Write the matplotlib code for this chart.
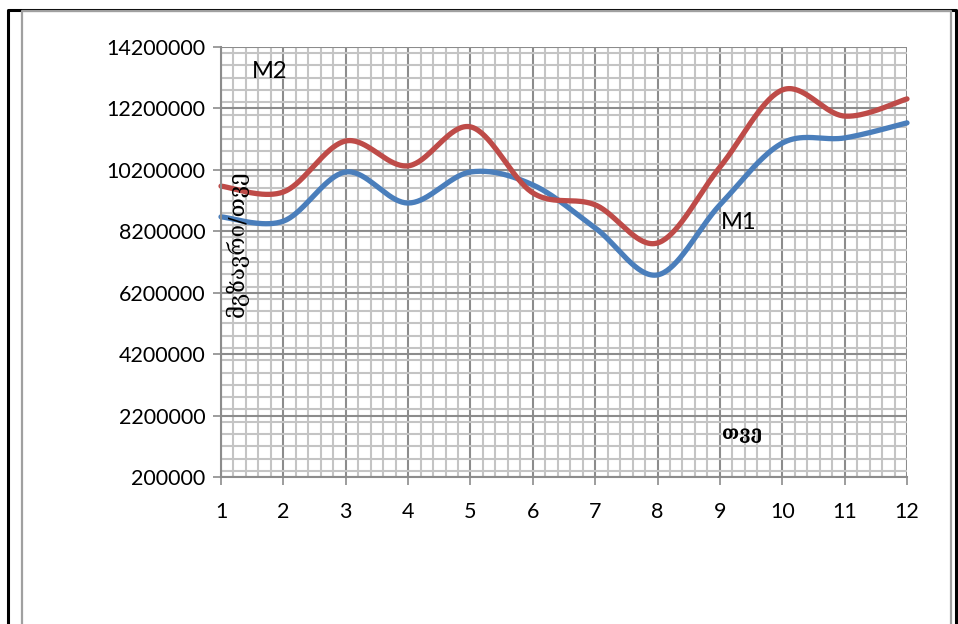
import numpy as np
import matplotlib
matplotlib.use("Agg")
import matplotlib.pyplot as plt
from matplotlib.lines import Line2D
from matplotlib.ticker import MultipleLocator

# monthly values
months = [1, 2, 3, 4, 5, 6, 7, 8, 9, 10, 11, 12]
m1 = [8670000, 8530000, 10130000, 9120000, 10130000, 9710000,
      8310000, 6780000, 9060000, 11070000, 11240000, 11730000]
m2 = [9670000, 9480000, 11140000, 10330000, 11600000, 9450000,
      9060000, 7820000, 10290000, 12800000, 11950000, 12510000]

yticks = [200000, 2200000, 4200000, 6200000, 8200000, 10200000, 12200000, 14200000]

W, H = 958, 624
XMIN, XMAX = 1, 12
YMIN, YMAX = 200000, 14200000


def smooth(xs, ys, ax_w, ax_h, n=40):
    """Bezier curve through the points, control points as in spreadsheet smoothed lines."""
    # work in screen-like units so the curve shape doesn't depend on axis scaling
    px = (np.asarray(xs, float) - XMIN) / (XMAX - XMIN) * ax_w
    py = (np.asarray(ys, float) - YMIN) / (YMAX - YMIN) * ax_h
    pts = np.column_stack([px, py])
    out = [pts[0]]
    for i in range(len(pts) - 1):
        p0 = pts[i - 1] if i > 0 else pts[i]
        p1, p2 = pts[i], pts[i + 1]
        p3 = pts[i + 2] if i + 2 < len(pts) else pts[i + 1]
        c1 = p1 + (p2 - p0) / 6.0
        c2 = p2 - (p3 - p1) / 6.0
        t = np.linspace(0, 1, n)[1:, None]
        seg = ((1 - t) ** 3) * p1 + 3 * ((1 - t) ** 2) * t * c1 + 3 * (1 - t) * t ** 2 * c2 + t ** 3 * p2
        out.extend(seg)
    out = np.array(out)
    sx = out[:, 0] / ax_w * (XMAX - XMIN) + XMIN
    sy = out[:, 1] / ax_h * (YMAX - YMIN) + YMIN
    return sx, sy


fig = plt.figure(figsize=(W / 100, H / 100), dpi=100)
fig.patch.set_facecolor("white")

# outer black frame and grey chart border
def px_line(xs, ys, **kw):
    fig.add_artist(Line2D([x / W for x in xs], [1 - y / H for y in ys],
                          transform=fig.transFigure, **kw))

px_line([7.5, 7.5, 955.5, 955.5], [H + 5, 9.5, 9.5, H + 5], color="black", lw=2.2)
px_line([21.5, 21.5, 950.5, 950.5], [H + 5, 11, 11, H + 5], color="#a0a0a0", lw=1.6)

left, right, top, bottom = 221, 907, 47, 477
ax = fig.add_axes([left / W, 1 - bottom / H, (right - left) / W, (bottom - top) / H])
ax_w, ax_h = right - left, bottom - top

ax.set_xlim(XMIN, XMAX)
ax.set_ylim(YMIN, YMAX)
ax.set_xticks(months)
ax.xaxis.set_minor_locator(MultipleLocator(0.2))
ax.set_yticks(yticks)
ax.yaxis.set_minor_locator(MultipleLocator(400000))
ax.set_xticklabels([str(m) for m in months])
ax.set_yticklabels([str(v) for v in yticks])

ax.grid(which="minor", color="#c4c4c4", lw=1.5)
ax.grid(which="major", color="#8c8c8c", lw=1.5)
ax.set_axisbelow(True)

for side in ["top", "right"]:
    ax.spines[side].set_visible(False)
for side in ["left", "bottom"]:
    ax.spines[side].set_color("#8c8c8c")
    ax.spines[side].set_linewidth(1.5)

ax.tick_params(which="major", direction="out", length=6, width=1.2, color="#8c8c8c",
               labelsize=15.5, pad=5)
ax.tick_params(axis="x", which="major", pad=12)
ax.tick_params(which="minor", length=0)
for lbl in ax.get_xticklabels() + ax.get_yticklabels():
    lbl.set_fontfamily("Lato")

bx, by = smooth(months, m1, ax_w, ax_h)
rx, ry = smooth(months, m2, ax_w, ax_h)
ax.plot(bx, by, color="#4a7ebb", lw=3.8, solid_capstyle="round", clip_on=False)
ax.plot(rx, ry, color="#be4b48", lw=3.8, solid_capstyle="round", clip_on=False)

ax.text(1.78, 13390000, "M2", fontsize=17, family="Lato", ha="center", va="center")
ax.text(9.3, 8500000, "M1", fontsize=17, family="Lato", ha="center", va="center")
ax.text(9.36, 1600000, "თვე", fontsize=13.5, family="DejaVu Serif", fontweight="bold",
        ha="center", va="center")
ax.text(1.26, 7800000, "მგზავრი/თვე", fontsize=16, family="DejaVu Serif",
        rotation=90, ha="center", va="center")

fig.savefig("out.png", dpi=100)
